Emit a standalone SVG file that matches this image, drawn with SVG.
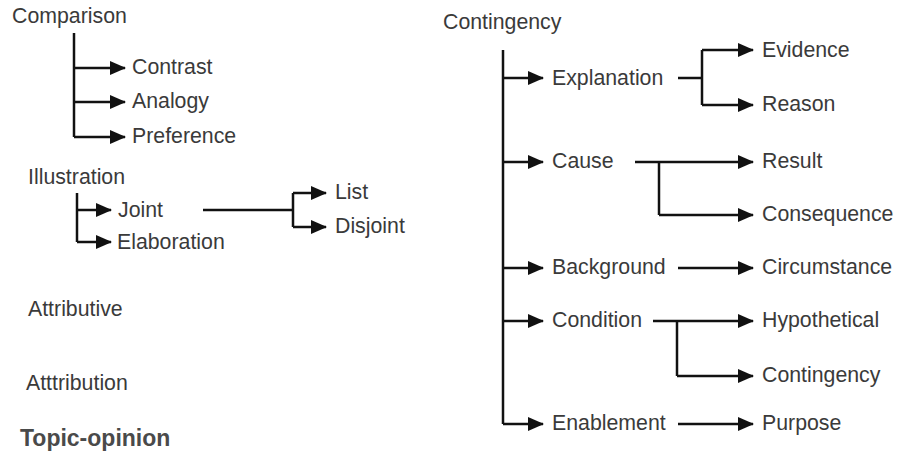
<svg xmlns="http://www.w3.org/2000/svg" width="898" height="456" viewBox="0 0 898 456">
<defs>
<style>
.t{font-family:"Liberation Sans",Arial,sans-serif;font-size:21.3px;fill:#3a3a3a}
.b{font-weight:bold;font-size:23px;fill:#4a4a4a}
.c{fill:none;stroke:#111;stroke-width:2.5}
.a{marker-end:url(#ah)}
</style>
<marker id="ah" markerUnits="userSpaceOnUse" markerWidth="16" markerHeight="14" refX="15" refY="7" orient="auto">
<path d="M0,0 L16,7 L0,14 z" fill="#111"/>
</marker>
</defs>
<rect width="898" height="456" fill="#fff"/>
<g id="connectors">
<path class="c" d="M74,33 V137"/>
<path class="c a" d="M74,68 H125"/>
<path class="c a" d="M74,102 H125"/>
<path class="c a" d="M74,137 H125"/>
<path class="c" d="M77,193 V242"/>
<path class="c a" d="M77,210 H111"/>
<path class="c a" d="M77,242 H111"/>
<path class="c" d="M203,210 H293 M293,193 V227"/>
<path class="c a" d="M293,193 H326"/>
<path class="c a" d="M293,227 H326"/>
<path class="c" d="M503,50 V424"/>
<path class="c a" d="M503,78 H543"/>
<path class="c a" d="M503,162 H543"/>
<path class="c a" d="M503,268 H543"/>
<path class="c a" d="M503,321 H543"/>
<path class="c a" d="M503,424 H543"/>
<path class="c" d="M678,78 H702 M702,50 V105"/>
<path class="c a" d="M702,50 H753"/>
<path class="c a" d="M702,105 H753"/>
<path class="c a" d="M635,162 H753"/>
<path class="c" d="M659,162 V215"/>
<path class="c a" d="M659,215 H753"/>
<path class="c a" d="M678,268 H753"/>
<path class="c a" d="M653,321 H753"/>
<path class="c" d="M677,321 V376"/>
<path class="c a" d="M677,376 H753"/>
<path class="c a" d="M678,424 H753"/>
</g>
<g id="comparison"><text class="t" x="12" y="23">Comparison</text></g>
<g id="contrast"><text class="t" x="132" y="74">Contrast</text></g>
<g id="analogy"><text class="t" x="132" y="108">Analogy</text></g>
<g id="preference"><text class="t" x="132" y="143">Preference</text></g>
<g id="illustration"><text class="t" x="28" y="184">Illustration</text></g>
<g id="joint"><text class="t" x="118" y="217">Joint</text></g>
<g id="elaboration"><text class="t" x="117" y="249">Elaboration</text></g>
<g id="list"><text class="t" x="335" y="199">List</text></g>
<g id="disjoint"><text class="t" x="335" y="233">Disjoint</text></g>
<g id="attributive"><text class="t" x="28" y="316">Attributive</text></g>
<g id="attribution"><text class="t" x="26" y="390">Atttribution</text></g>
<g id="topic-opinion"><text class="t b" x="20" y="446">Topic-opinion</text></g>
<g id="contingency-root"><text class="t" x="443" y="29">Contingency</text></g>
<g id="explanation"><text class="t" x="552" y="85">Explanation</text></g>
<g id="evidence"><text class="t" x="762" y="57">Evidence</text></g>
<g id="reason"><text class="t" x="762" y="111">Reason</text></g>
<g id="cause"><text class="t" x="552" y="168">Cause</text></g>
<g id="result"><text class="t" x="762" y="168">Result</text></g>
<g id="consequence"><text class="t" x="762" y="221">Consequence</text></g>
<g id="background"><text class="t" x="552" y="274">Background</text></g>
<g id="circumstance"><text class="t" x="762" y="274">Circumstance</text></g>
<g id="condition"><text class="t" x="552" y="327">Condition</text></g>
<g id="hypothetical"><text class="t" x="762" y="327">Hypothetical</text></g>
<g id="contingency"><text class="t" x="762" y="382">Contingency</text></g>
<g id="enablement"><text class="t" x="552" y="430">Enablement</text></g>
<g id="purpose"><text class="t" x="762" y="430">Purpose</text></g>
</svg>
